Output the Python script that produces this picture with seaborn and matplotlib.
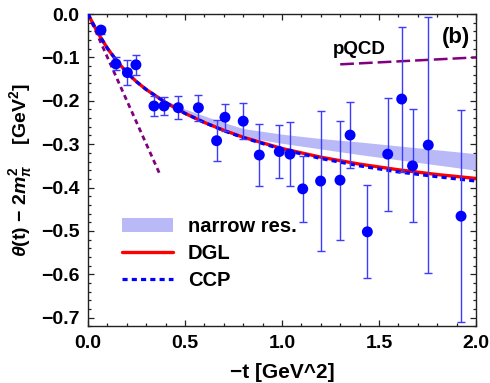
import numpy as np
import pandas as pd
import matplotlib
matplotlib.use("Agg")
import matplotlib.pyplot as plt
import seaborn as sns
from matplotlib.patches import Patch
from matplotlib.lines import Line2D
from matplotlib.ticker import MultipleLocator

# ---- data ----
t_data = [0.067, 0.144, 0.203, 0.247, 0.340, 0.392, 0.465, 0.569, 0.663, 0.706,
          0.800, 0.883, 0.986, 1.041, 1.107, 1.199, 1.299, 1.351, 1.440, 1.545,
          1.617, 1.673, 1.754, 1.923]
theta_data = [-0.037, -0.115, -0.135, -0.117, -0.212, -0.212, -0.216, -0.216, -0.292, -0.238,
              -0.247, -0.325, -0.317, -0.323, -0.403, -0.385, -0.383, -0.279, -0.502, -0.323,
              -0.196, -0.350, -0.302, -0.466]
theta_err = [0.008, 0.015, 0.028, 0.023, 0.024, 0.020, 0.027, 0.030, 0.047, 0.031,
             0.041, 0.072, 0.061, 0.074, 0.076, 0.161, 0.137, 0.077, 0.107, 0.130,
             0.167, 0.130, 0.295, 0.244]

t_curve = [0, 0.05, 0.1, 0.15, 0.2, 0.25, 0.3, 0.4, 0.5, 0.6, 0.7, 0.8, 1.0, 1.2, 1.4, 1.6, 1.8, 2.0]
dgl = [0, -0.043, -0.079, -0.109, -0.135, -0.156, -0.174, -0.204, -0.229, -0.250, -0.268,
       -0.284, -0.310, -0.330, -0.346, -0.359, -0.370, -0.379]
ccp = [0, -0.043, -0.079, -0.109, -0.135, -0.156, -0.174, -0.204, -0.229, -0.250, -0.269,
       -0.285, -0.312, -0.333, -0.350, -0.364, -0.375, -0.385]

t_band = [0, 0.2, 0.3, 0.4, 0.5, 0.6, 0.7, 0.8, 1.0, 1.2, 1.4, 1.6, 1.8, 2.0]
band_hi = [0, -0.135, -0.172, -0.199, -0.219, -0.235, -0.250, -0.264, -0.277, -0.287,
           -0.295, -0.304, -0.313, -0.322]
band_lo = [0, -0.135, -0.174, -0.204, -0.229, -0.250, -0.266, -0.283, -0.298, -0.311,
           -0.324, -0.336, -0.348, -0.360]

t_slope = [0.0, 0.368]
slope_line = [0.0, -0.367]
t_pqcd = [1.30, 2.0]
pqcd = [-0.116, -0.100]

# ---- style ----
sns.set_style("ticks")
plt.rcParams['font.family'] = ['Liberation Sans', 'DejaVu Sans']
plt.rcParams['font.weight'] = 'bold'
plt.rcParams['text.color'] = 'black'
plt.rcParams['axes.labelcolor'] = 'black'
plt.rcParams['mathtext.fontset'] = 'custom'
plt.rcParams['mathtext.rm'] = 'Liberation Sans:bold'
plt.rcParams['mathtext.it'] = 'Liberation Sans:italic:bold'
plt.rcParams['mathtext.bf'] = 'Liberation Sans:bold'

fig = plt.figure(figsize=(4.9, 3.83), dpi=100)
ax = fig.add_axes([0.1796, 0.1478, 0.7918, 0.8156])

band_col = '#b9b9f7'
ax.fill_between(t_band, band_lo, band_hi, color=band_col, lw=0, zorder=1)

df_curve = pd.DataFrame({'t': t_curve, 'DGL': dgl, 'CCP': ccp})
sns.lineplot(data=df_curve, x='t', y='DGL', color='#ff0000', lw=2.4, ax=ax,
             zorder=2, sort=False)
sns.lineplot(data=df_curve, x='t', y='CCP', color='#0000ff', lw=2.3, ax=ax,
             zorder=3, sort=False, dashes=False)
ax.lines[-1].set_dashes((1.6, 1.3))

purple = '#800080'
ax.plot(t_slope, slope_line, color=purple, lw=2.0, dashes=(1.8, 1.4), zorder=2)
ax.plot(t_pqcd, pqcd, color=purple, lw=1.8, dashes=(5.5, 2.0), zorder=2)

ax.errorbar(t_data, theta_data, yerr=theta_err, fmt='none', ecolor='#3c3cff',
            elinewidth=1.0, capsize=3, capthick=1.0, zorder=4)
df_pts = pd.DataFrame({'t': t_data, 'theta': theta_data})
sns.scatterplot(data=df_pts, x='t', y='theta', color='#0000ff', s=62,
                edgecolor='none', ax=ax, zorder=5)

ax.set_xlim(0, 2.0)
ax.set_ylim(-0.72, 0.0)
ax.xaxis.set_major_locator(MultipleLocator(0.5))
ax.xaxis.set_minor_locator(MultipleLocator(0.1))
ax.yaxis.set_major_locator(MultipleLocator(0.1))
ax.yaxis.set_minor_locator(MultipleLocator(0.02))
ax.set_xticks([0, 0.5, 1.0, 1.5, 2.0])
ax.set_xticklabels(['0.0', '0.5', '1.0', '1.5', '2.0'])
ax.set_yticks([0.0, -0.1, -0.2, -0.3, -0.4, -0.5, -0.6, -0.7])
ax.set_yticklabels(['0.0', '\u22120.1', '\u22120.2', '\u22120.3', '\u22120.4',
                    '\u22120.5', '\u22120.6', '\u22120.7'])
ax.tick_params(which='both', direction='in', top=True, right=True, width=0.9,
               colors='#222222', labelcolor='black')
ax.tick_params(which='major', length=4.0, labelsize=14, pad=6)
ax.tick_params(which='minor', length=2.3)
for lab in ax.get_xticklabels() + ax.get_yticklabels():
    lab.set_fontweight('bold')
    lab.set_color('black')
for sp in ax.spines.values():
    sp.set_linewidth(1.0)
    sp.set_color('#222222')

ax.set_xlabel('\u2212t [GeV^2]', fontsize=15, fontweight='bold', labelpad=8,
              color='black')
ax.set_ylabel(r'$\theta$(t) ' + '\u2212' + r' 2$m_{\pi}^{2}$    [GeV$^{2}$]',
              fontsize=14, fontweight='bold', labelpad=5, color='black')

ax.text(1.397, -0.081, 'pQCD', fontsize=13.5, fontweight='bold', ha='center',
        va='center', color='black')
ax.text(1.897, -0.053, '(b)', fontsize=16, fontweight='bold', ha='center',
        va='center', color='black')

handles = [Patch(facecolor=band_col, edgecolor='none'),
           Line2D([], [], color='#ff0000', lw=2.4),
           Line2D([], [], color='#0000ff', lw=2.3, dashes=(1.6, 1.3))]
leg = ax.legend(handles, ['narrow res.', 'DGL', 'CCP'], loc='upper left',
                bbox_to_anchor=(0.068, 0.375), frameon=False, fontsize=14.5,
                handlelength=2.5, handletextpad=0.75, labelspacing=0.38,
                borderaxespad=0)
for txt in leg.get_texts():
    txt.set_fontweight('bold')
    txt.set_color('black')

fig.savefig('out.png', dpi=100)
